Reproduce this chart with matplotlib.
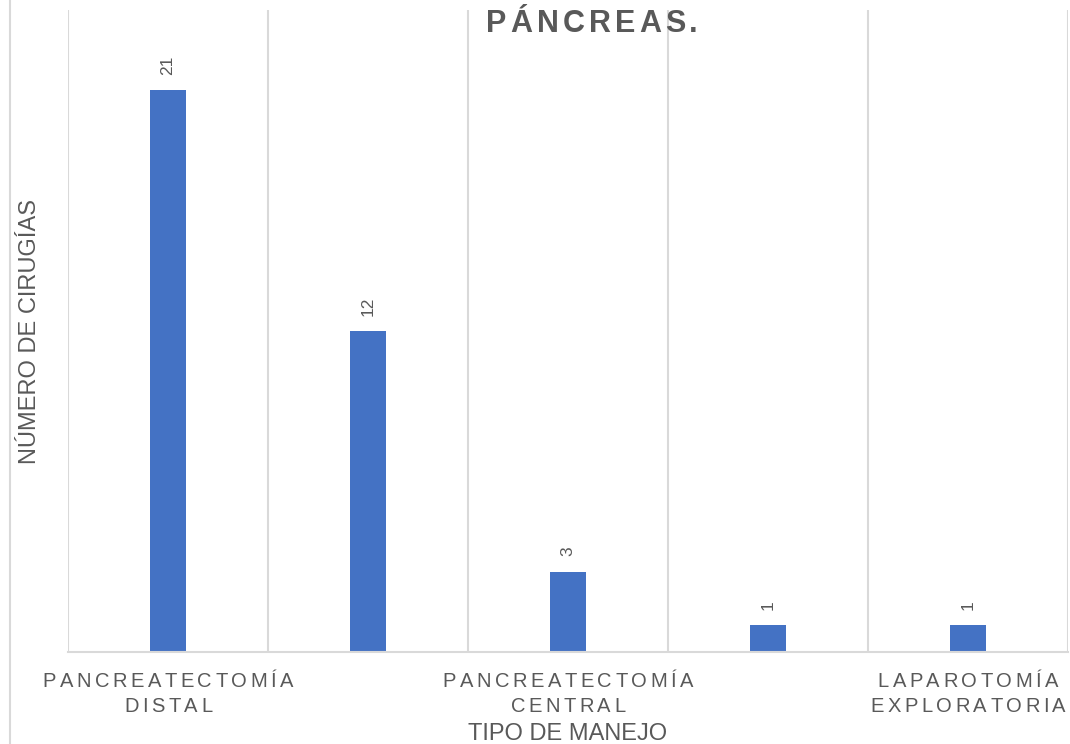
import numpy as np
import matplotlib.pyplot as plt
from matplotlib.font_manager import FontProperties, findfont
from matplotlib.ft2font import FT2Font
from matplotlib.lines import Line2D
from matplotlib.transforms import offset_copy, blended_transform_factory

# surgeries by type of management
categorias = ["PANCREATECTOMÍA\nDISTAL", "", "PANCREATECTOMÍA\nCENTRAL", "",
              "LAPAROTOMÍA\nEXPLORATORIA"]
cirugias = [21, 12, 3, 1, 1]

GRIS = "#595959"
GRID = "#d9d9d9"
AZUL = "#4472C4"
FUENTE = "Liberation Sans"
DPI = 100

plt.rcParams['font.family'] = [FUENTE, 'DejaVu Sans']

fig = plt.figure(figsize=(10.7, 7.44), dpi=DPI)
ax = fig.add_axes([68 / 1070, 1 - 652 / 744, 1000 / 1070, 642 / 744])

x = np.arange(len(cirugias))
ax.bar(x, cirugias, width=0.18, color=AZUL, zorder=3)

ax.set_xlim(-0.5, len(cirugias) - 0.5)
ax.set_ylim(0, 24)
ax.set_xticks(x)
ax.set_xticks(np.arange(-0.5, len(cirugias), 1), minor=True)
ax.tick_params(which='both', length=0, labelbottom=False, labelleft=False)
ax.grid(which='minor', axis='x', color=GRID, lw=1.5, zorder=0)
ax.grid(which='major', visible=False)
for s in ['top', 'right', 'left']:
    ax.spines[s].set_visible(False)
ax.spines['bottom'].set_color(GRID)
ax.spines['bottom'].set_linewidth(1.5)
ax.spines['bottom'].set_zorder(4)

# data labels, rotated
for xi, v in zip(x, cirugias):
    ax.annotate(str(v), (xi, v), xytext=(0, 11), textcoords='offset points',
                rotation=90, ha='center', va='bottom', fontsize=12.5, color=GRIS)


def texto_espaciado(xv, yv, s, size, track, transform, weight='normal'):
    # draws s glyph by glyph with extra letter spacing (track in px), centred on xv
    fp = FontProperties(family=FUENTE, size=size, weight=weight)
    ft = FT2Font(findfont(fp), hinting_factor=1)
    ft.set_size(size, DPI)
    pluma, pos = 0.0, []
    for ch in s:
        pos.append(pluma)
        pluma += ft.load_char(ord(ch)).linearHoriAdvance / 65536 + track
    total = pluma - track
    for ch, px in zip(s, pos):
        tr = offset_copy(transform, fig=fig, x=px - total / 2, y=0, units='dots')
        fig.text(xv, yv, ch, transform=tr, fontproperties=fp, color=GRIS,
                 ha='left', va='baseline')


# category labels
trans = blended_transform_factory(ax.transData, ax.transAxes)
lineas_y = [(652 - 687) / 642, (652 - 712) / 642]
for xi, etiqueta in zip(x, categorias):
    if not etiqueta:
        continue
    for ly, linea in zip(lineas_y, etiqueta.split("\n")):
        texto_espaciado(xi, ly, linea, 14.5, 3.6, trans)

# title
texto_espaciado(592 / 1070, 1 - 32 / 744, "PÁNCREAS.", 22, 3.6,
                fig.transFigure, weight='bold')

# axis titles
ax.text(0.5, (652 - 740) / 642, "TIPO DE MANEJO", transform=ax.transAxes,
        ha='center', va='baseline', fontsize=17, color=GRIS)
ax.text(-0.038, 0.5, "NÚMERO DE CIRUGÍAS", transform=ax.transAxes,
        ha='center', va='center', rotation=90, fontsize=17, color=GRIS)

# chart border on the left
fig.add_artist(Line2D([10 / 1070, 10 / 1070], [0, 1], color=GRID, lw=1.5,
                      transform=fig.transFigure))

fig.savefig("out.png", dpi=DPI, facecolor="white")
